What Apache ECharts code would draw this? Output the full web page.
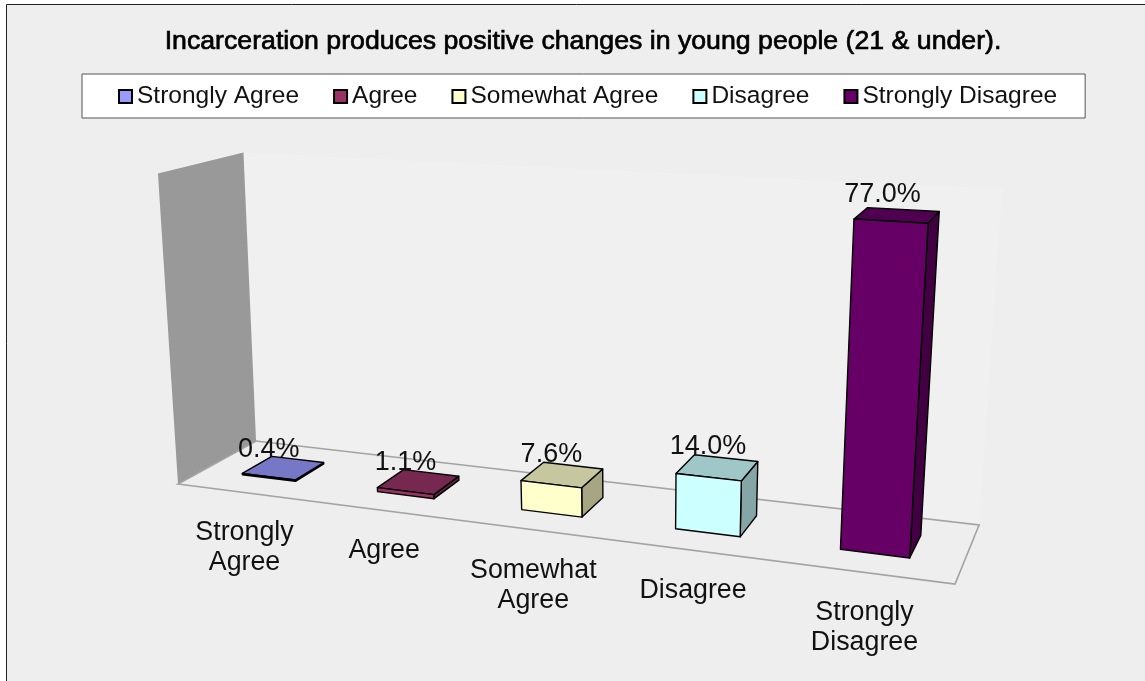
<!DOCTYPE html>
<html>
<head>
<meta charset="utf-8">
<style>html,body{margin:0;padding:0;background:#fff}#c{width:1145px;height:681px}</style>
<script src="https://cdn.jsdelivr.net/npm/echarts@6/dist/echarts.min.js"></script>
</head>
<body>
<div id="c"></div>
<script>
const titleText = 'Incarceration produces positive changes in young people (21 & under).';
const categories = ['Strongly Agree', 'Agree', 'Somewhat Agree', 'Disagree', 'Strongly Disagree'];
const labelLines = ['Strongly\nAgree', 'Agree', 'Somewhat\nAgree', 'Disagree', 'Strongly\nDisagree'];
const values = [0.4, 1.1, 7.6, 14.0, 77.0];
const frontColors = ['#9999ff', '#993366', '#ffffcc', '#ccffff', '#660066'];
const valueMax = 80;

// Perspective camera of the 3D plot: u along the floor, v into depth, w up.
const cam = {a:626.7,b:98.5,c:178,d:8.1,e:-7.76,f:484,g:-0.1574,h:0.0799,p:-36.7,q:-0.0576,r:-317.8};
function project(u, v, w) {
  const den = cam.g*u + cam.h*v + 1 + cam.q*w;
  return [(cam.a*u + cam.b*v + cam.c + cam.p*w)/den, (cam.d*u + cam.e*v + cam.f + cam.r*w)/den];
}
const depthRange = [0.31, 0.70];
const barFill = 0.4;
function shade(hex, k) {
  const n = parseInt(hex.slice(1), 16);
  const c = s => Math.round(((n >> s) & 255) * k);
  return 'rgb(' + c(16) + ',' + c(8) + ',' + c(0) + ')';
}
const textStyleBase = {fontFamily:'Liberation Sans', fill:'#111'};

function renderBar(params, api) {
  const cs = params.coordSys;
  const i = api.value(0), val = api.value(1);
  const pt = api.coord([i, val]);
  const uc = (pt[0] - cs.x) / cs.width;
  const w = (cs.y + cs.height - pt[1]) / cs.height;
  const hb = barFill * api.size([1, 0])[0] / 2 / cs.width;
  const [v0, v1] = depthRange;
  const u0 = uc - hb, u1 = uc + hb;
  const FBL = project(u0,v0,0), FBR = project(u1,v0,0), BBR = project(u1,v1,0);
  const FTL = project(u0,v0,w), FTR = project(u1,v0,w), BTR = project(u1,v1,w), BTL = project(u0,v1,w);
  const col = frontColors[i];
  const line = {stroke:'#000', lineWidth:1.4, lineJoin:'round'};
  const poly = (pts, fill) => ({type:'polygon', shape:{points:pts}, style:Object.assign({fill}, line)});
  const labelAnchor = project(uc, v0, w * 0.5);
  const tx = labelAnchor[0];
  const ty = BTL[1] - 7 - val * 0.08;
  const cat = project(uc, 0, 0);
  return {type:'group', children:[
    poly([FBR, BBR, BTR, FTR], shade(col, 0.65)),
    poly([FTL, FTR, BTR, BTL], shade(col, 0.78)),
    poly([FBL, FBR, FTR, FTL], col),
    {type:'text', z2:10, style:Object.assign({}, textStyleBase, {text:val.toFixed(1)+'%', x:tx, y:ty, fontSize:27, align:'center', verticalAlign:'middle'})},
    {type:'text', z2:10, style:Object.assign({}, textStyleBase, {text:labelLines[i], x:cat[0], y:cat[1]+25.5, fontSize:26.8, lineHeight:30, align:'center', verticalAlign:'top'})}
  ]};
}

const floorCorners = [[0,0,0],[1,0,0],[1,1,0],[0,1,0]];
const leftWallCorners = [[0,0,0],[0,1,0],[0.014,1,1.01],[0.012,0,1.01]];
const backWallCorners = [[0,1,0],[1,1,0],[1,1,1.01],[0.014,1,1.01]];
function renderRoom() {
  const pts = list => list.map(c => project(c[0], c[1], c[2]));
  return {type:'group', children:[
    {type:'polygon', shape:{points:pts(backWallCorners)}, style:{fill:'#f0f0f0'}},
    {type:'polygon', shape:{points:pts(leftWallCorners)}, style:{fill:'#999999'}},
    {type:'polygon', shape:{points:pts(floorCorners)}, style:{fill:'#eeeeee', stroke:'#a3a3a3', lineWidth:1.6}}
  ]};
}

const barSeries = categories.map((name, i) => ({
  name, type:'custom', coordinateSystem:'cartesian2d', silent:true,
  itemStyle:{color:frontColors[i]},
  encode:{x:0, y:1}, data:[[i, values[i]]], renderItem:renderBar, z:3
}));

const chart = echarts.init(document.getElementById('c'), null, {renderer:'canvas'});
chart.setOption({
  animation:false,
  backgroundColor:'#ffffff',
  graphic:[{type:'rect', z:-10, shape:{x:6.5,y:4.5,width:1300,height:900}, style:{fill:'#eeeeee', stroke:'#222', lineWidth:1}}],
  title:{text:titleText, top:28, padding:0, itemGap:0,
    left:583, textAlign:'center',
    textStyle:{fontFamily:'Liberation Sans', fontWeight:'normal', fontSize:26.7, color:'#000', textBorderColor:'#000', textBorderWidth:0.7}},
  legend:{left:82, top:74, orient:'horizontal', padding:[10,28,9,36], itemGap:34, itemWidth:13, itemHeight:13,
    backgroundColor:'#ffffff', borderColor:'#555', borderWidth:1, selectedMode:false,
    textStyle:{fontFamily:'Liberation Sans', fontSize:24.5, color:'#111'},
    data:categories.map((name,i)=>({name, icon:'rect', itemStyle:{color:frontColors[i], borderColor:'#000', borderWidth:2}}))},
  grid:{left:100, right:100, top:150, bottom:100, containLabel:false},
  xAxis:{type:'category', data:categories, show:false},
  yAxis:{type:'value', min:0, max:valueMax, show:false},
  series:[{type:'custom', name:'room', coordinateSystem:'none', silent:true, z:1, data:[[0]], renderItem:renderRoom}].concat(barSeries)
});
</script>
</body>
</html>
